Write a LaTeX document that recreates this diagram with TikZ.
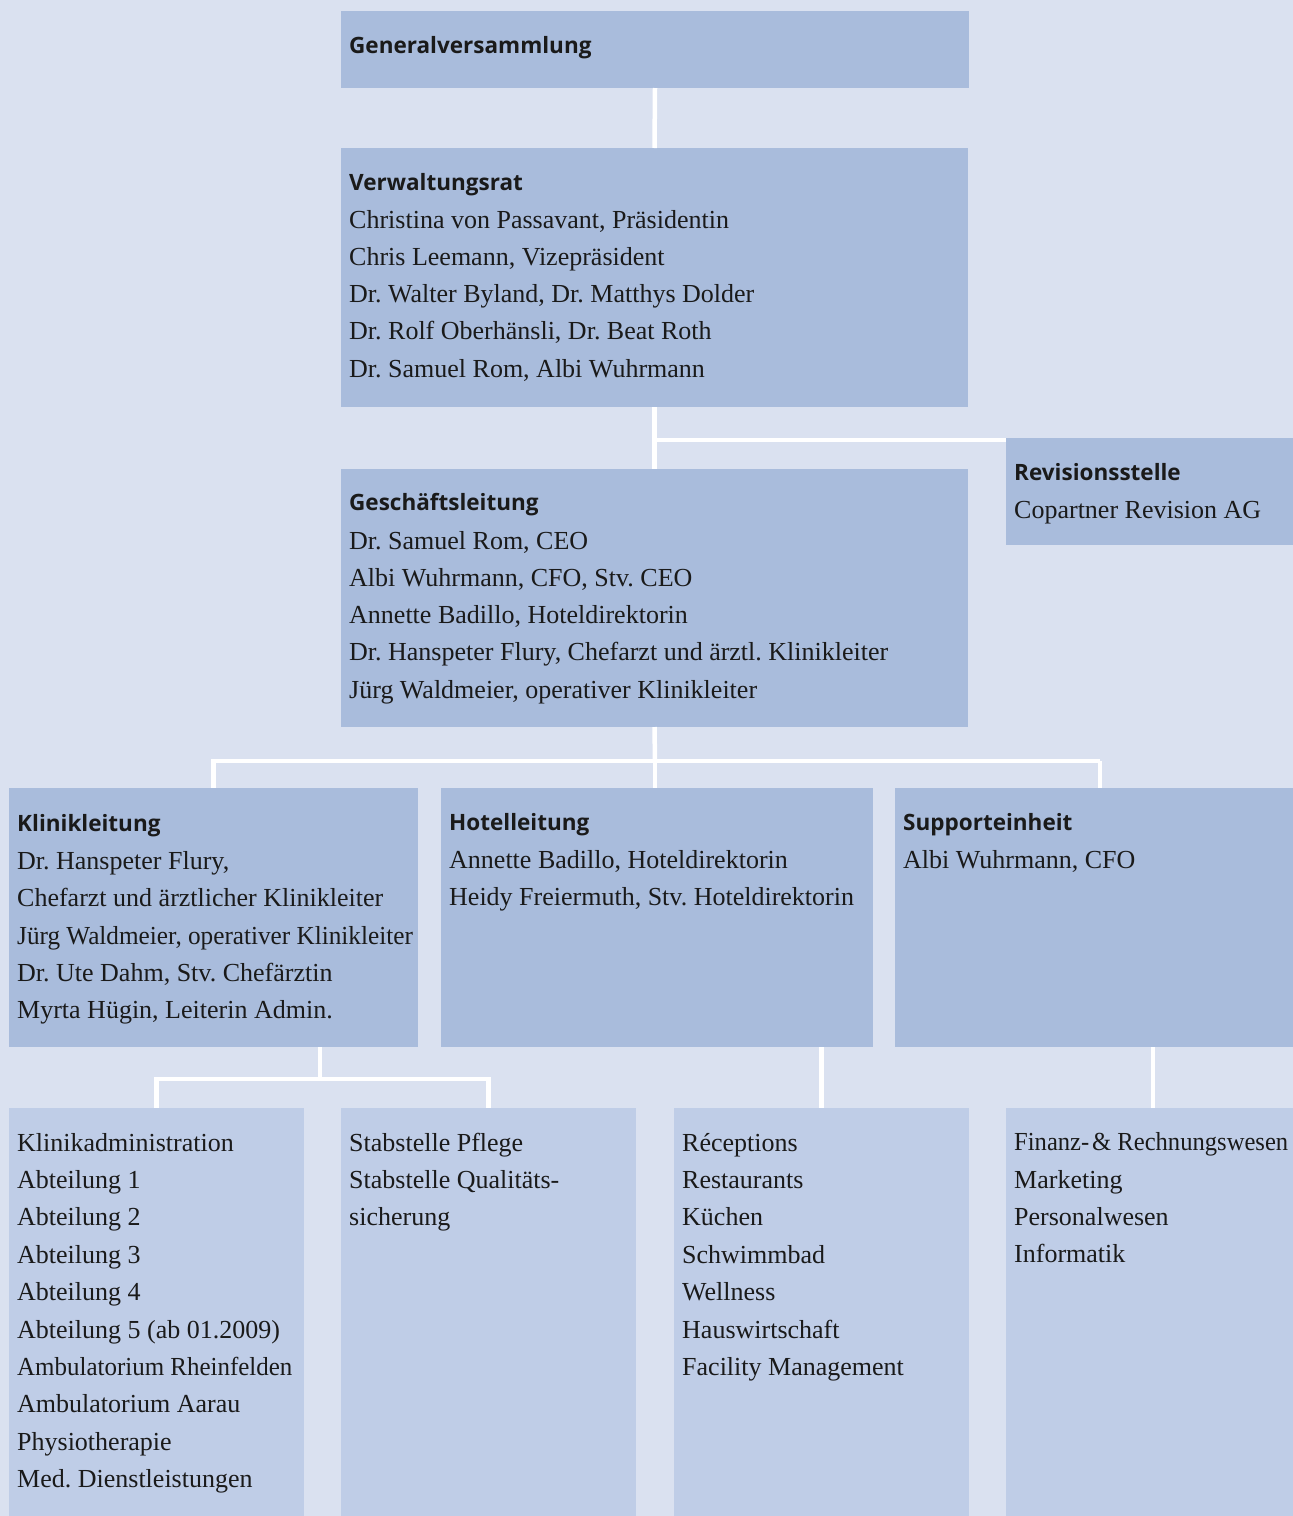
\documentclass[tikz,border=0pt]{standalone}
\usepackage{fontspec}
\setmainfont{Liberation Serif}
\newfontfamily\headfont{Open Sans}
\definecolor{bgc}{HTML}{DAE1F0}
\definecolor{darkbox}{HTML}{A9BCDC}
\definecolor{lightbox}{HTML}{BFCDE7}
\definecolor{ink}{HTML}{1A1A1A}
\begin{document}
\frenchspacing
\begin{tikzpicture}[x=1pt,y=-1pt,
  boxd/.style={fill=darkbox,draw=none,inner sep=0pt,outer sep=0pt,anchor=north west},
  boxl/.style={fill=lightbox,draw=none,inner sep=0pt,outer sep=0pt,anchor=north west},
  head/.style={anchor=base west,inner sep=0pt,text=ink,font=\headfont\bfseries\fontsize{22.5}{30}\selectfont},
  body/.style={anchor=base west,inner sep=0pt,text=ink,font=\frenchspacing\fontsize{26}{37}\selectfont},
  conn/.style={draw=white,line width=4.5pt}]
\useasboundingbox (0,0) rectangle (1293,1516);
\fill[bgc] (0,0) rectangle (1293,1516);
% boxes
\node[boxd,minimum width=628pt,minimum height=77pt] (gv) at (341,11) {};
\node[boxd,minimum width=627pt,minimum height=259pt] (vr) at (341,148) {};
\node[boxd,minimum width=287pt,minimum height=107pt] (rev) at (1006,438) {};
\node[boxd,minimum width=627pt,minimum height=258pt] (gl) at (341,469) {};
\node[boxd,minimum width=409pt,minimum height=259pt] (kl) at (9,788) {};
\node[boxd,minimum width=432pt,minimum height=259pt] (ho) at (441,788) {};
\node[boxd,minimum width=398pt,minimum height=259pt] (su) at (895,788) {};
\node[boxl,minimum width=295pt,minimum height=408pt] (ka) at (9,1108) {};
\node[boxl,minimum width=295pt,minimum height=408pt] (sp) at (341,1108) {};
\node[boxl,minimum width=295pt,minimum height=408pt] (rc) at (674,1108) {};
\node[boxl,minimum width=287pt,minimum height=408pt] (fi) at (1006,1108) {};
% connectors
\coordinate (j1) at (655,440);
\coordinate (j2) at (655,761);
\coordinate (j3) at (320,1079);
\draw[conn] (gv.south) -- (vr.north);
\draw[conn] (vr.south) -- (gl.north);
\draw[conn] (j1) -- (j1 -| rev.west);
\draw[conn] (gl.south) -- (j2);
\draw[conn] (kl.north |- j2) -- (kl.north);
\draw[conn] ([xshift=6pt]su.north |- j2) -- ([xshift=6pt]su.north);
\draw[conn] ([xshift=-2.25pt]kl.north |- j2) -- ([xshift=2.25pt]su.north |- j2) -- ++(3.75pt,0);
\draw[conn] (j2) -- (j2 |- ho.north);
\draw[conn] (j3 |- kl.south) -- (j3);
\draw[conn] ([xshift=-2.25pt]ka.north |- j3) -- ([xshift=2.25pt]sp.north |- j3);
\draw[conn] (ka.north |- j3) -- (ka.north);
\draw[conn] (sp.north |- j3) -- (sp.north);
\draw[conn] (rc.north |- ho.south) -- (rc.north);
\draw[conn] ([xshift=3.5pt]fi.north |- su.south) -- ([xshift=3.5pt]fi.north);
% texts
\node[head] (gv0) at (349,53) {Generalversammlung};
\node[head] (vr0) at (349,190) {Verwaltungsrat};
\node[body] (vr1) at (349,228) {Christina von Passavant, Präsidentin};
\node[body] (vr2) at (349,265) {Chris Leemann, Vizepräsident};
\node[body] (vr3) at (349,302) {Dr. Walter Byland, Dr. Matthys Dolder};
\node[body] (vr4) at (349,339) {Dr. Rolf Oberhänsli, Dr. Beat Roth};
\node[body] (vr5) at (349,377) {Dr. Samuel Rom, Albi Wuhrmann};
\node[head] (rev0) at (1014,480) {Revisionsstelle};
\node[body] (rev1) at (1014,518) {Copartner Revision AG};
\node[head] (gl0) at (349,510) {Geschäftsleitung};
\node[body] (gl1) at (349,549) {Dr. Samuel Rom, CEO};
\node[body] (gl2) at (349,586) {Albi Wuhrmann, CFO, Stv. CEO};
\node[body] (gl3) at (349,623) {Annette Badillo, Hoteldirektorin};
\node[body] (gl4) at (349,660) {Dr. Hanspeter Flury, Chefarzt und ärztl. Klinikleiter};
\node[body] (gl5) at (349,698) {Jürg Waldmeier, operativer Klinikleiter};
\node[head] (kl0) at (17,831) {Klinikleitung};
\node[body] (kl1) at (17,869) {Dr. Hanspeter Flury,};
\node[body] (kl2) at (17,906) {Chefarzt und ärztlicher Klinikleiter};
\node[body] (kl3) at (17,944) {\scalebox{0.97}[1]{Jürg Waldmeier, operativer Klinikleiter}};
\node[body] (kl4) at (17,981) {Dr. Ute Dahm, Stv. Chefärztin};
\node[body] (kl5) at (17,1018) {Myrta Hügin, Leiterin Admin.};
\node[head] (ho0) at (449,830) {Hotelleitung};
\node[body] (ho1) at (449,868) {Annette Badillo, Hoteldirektorin};
\node[body] (ho2) at (449,905) {Heidy Freiermuth, Stv. Hoteldirektorin};
\node[head] (su0) at (903,830) {Supporteinheit};
\node[body] (su1) at (903,868) {Albi Wuhrmann, CFO};
\node[body] (ka1) at (17,1151) {Klinikadministration};
\node[body] (ka2) at (17,1188.4) {Abteilung 1};
\node[body] (ka3) at (17,1225.8) {Abteilung 2};
\node[body] (ka4) at (17,1263.2) {Abteilung 3};
\node[body] (ka5) at (17,1300.6) {Abteilung 4};
\node[body] (ka6) at (17,1338) {Abteilung 5 (ab 01.2009)};
\node[body] (ka7) at (17,1375.4) {\scalebox{0.96}[1]{Ambulatorium Rheinfelden}};
\node[body] (ka8) at (17,1412.8) {Ambulatorium Aarau};
\node[body] (ka9) at (17,1450.2) {Physiotherapie};
\node[body] (ka10) at (17,1487.6) {Med. Dienstleistungen};
\node[body] (sp1) at (349,1151) {Stabstelle Pflege};
\node[body] (sp2) at (349,1188.4) {Stabstelle Qualitäts-};
\node[body] (sp3) at (349,1225.8) {sicherung};
\node[body] (rc1) at (682,1151) {Réceptions};
\node[body] (rc2) at (682,1188.4) {Restaurants};
\node[body] (rc3) at (682,1225.8) {Küchen};
\node[body] (rc4) at (682,1263.2) {Schwimmbad};
\node[body] (rc5) at (682,1300.6) {Wellness};
\node[body] (rc6) at (682,1338) {Hauswirtschaft};
\node[body] (rc7) at (682,1375.4) {Facility Management};
\node[body] (fi1) at (1014,1150) {\resizebox{274pt}{\height}{Finanz-\kern3pt\& Rechnungswesen}};
\node[body] (fi2) at (1014,1188) {Marketing};
\node[body] (fi3) at (1014,1225) {Personalwesen};
\node[body] (fi4) at (1014,1262) {Informatik};
\end{tikzpicture}
\end{document}
